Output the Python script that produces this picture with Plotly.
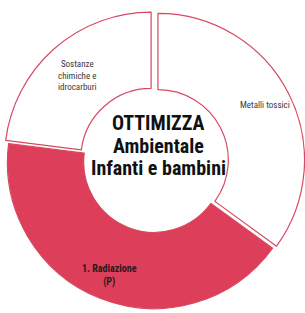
import math
import plotly.graph_objects as go

# ---- data ----
labels = ["Metalli tossici", "1. Radiazione (P)", "Sostanze chimiche e idrocarburi"]
display_text = ["Metalli tossici", "<b>1. Radiazione</b><br><b>(P)</b>", "Sostanze<br>chimiche e<br>idrocarburi"]
values = [35, 42, 23]
fill_colors = ["#FFFFFF", "#DD3E5A", "#FFFFFF"]
pulls = [0.03, 0.0, 0.03]
label_sizes = [9, 10, 9]
label_radius = [0.82, 0.83, 0.755]
label_colors = ["#3a3a3a", "#2a1a1a", "#3a3a3a"]
center_lines = ["OTTIMIZZA", "Ambientale", "Infanti e bambini"]

W, H = 305, 313
COND = "Roboto Condensed, DejaVu Sans Condensed, Roboto, sans-serif"

dom_x = [0.01, 1.0]
dom_y = [0.0, 0.9647]
HOLE = 0.48

fig = go.Figure(go.Pie(
    labels=labels,
    values=values,
    sort=False,
    direction="clockwise",
    rotation=0,
    hole=HOLE,
    pull=pulls,
    marker=dict(colors=fill_colors, line=dict(color="#D8485F", width=1.2)),
    textinfo="none",
    hoverinfo="label+percent",
    showlegend=False,
    domain=dict(x=dom_x, y=dom_y),
))

# geometry of the pie as plotly computes it (used to place labels)
bw = W * (dom_x[1] - dom_x[0]) / 2
bh = H * (dom_y[1] - dom_y[0]) / 2
R = min(bw, bh) / (1 + max(pulls))
cx = W * (dom_x[0] + dom_x[1]) / 2
cy = H * (1 - dom_y[0]) - bh

total = sum(values)
acc = 0.0
annotations = []
for v, t, p, s, c, rf in zip(values, display_text, pulls, label_sizes, label_colors, label_radius):
    mid = (acc + v / 2) / total * 2 * math.pi
    acc += v
    r = rf * R + p * R
    px = cx + r * math.sin(mid)
    py = cy - r * math.cos(mid)
    annotations.append(dict(
        x=px / W, y=1 - py / H, xref="paper", yref="paper",
        text=t, showarrow=False, align="center",
        font=dict(family=COND, size=s, color=c),
        xanchor="center", yanchor="middle",
    ))

center_y = [123.3, 145.5, 167.5]
for line, yy in zip(center_lines, center_y):
    annotations.append(dict(
        x=158 / W, y=1 - yy / H, xref="paper", yref="paper",
        text="<b>" + line + "</b>", showarrow=False,
        font=dict(family=COND, size=20, color="#111111"),
        xanchor="center", yanchor="middle",
    ))

fig.update_layout(
    width=W, height=H,
    margin=dict(l=0, r=0, t=0, b=0),
    paper_bgcolor="white",
    plot_bgcolor="white",
    annotations=annotations,
)

fig.write_html(
    "out.html",
    config={"displayModeBar": False},
    post_script="document.body.style.margin='0px';",
)
